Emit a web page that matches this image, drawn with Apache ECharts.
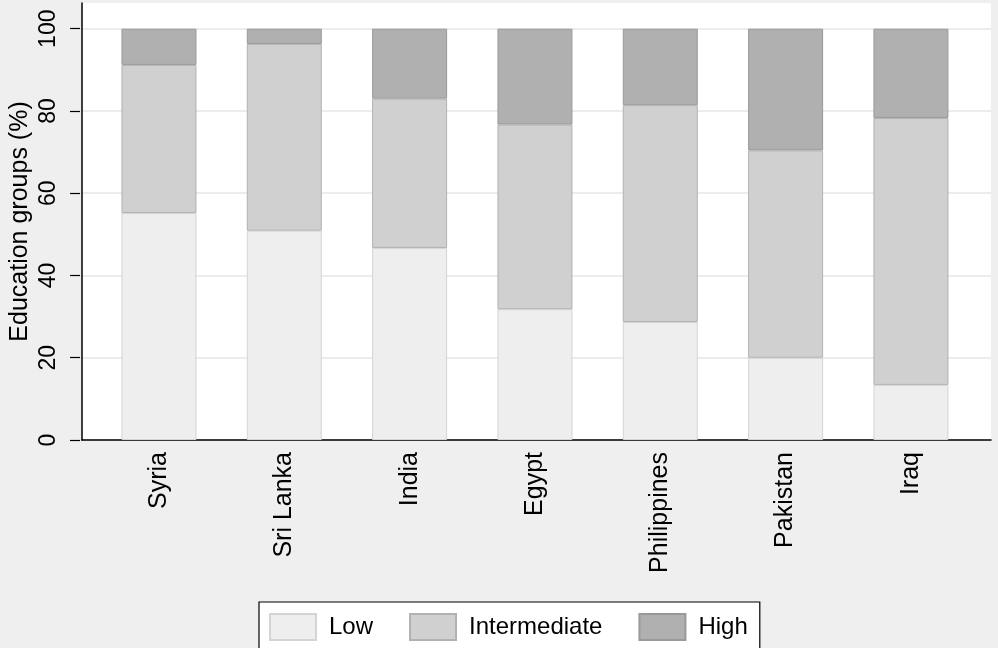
<!DOCTYPE html>
<html>
<head>
<meta charset="utf-8">
<script src="https://cdn.jsdelivr.net/npm/echarts@6/dist/echarts.min.js"></script>
<style>
html,body{margin:0;padding:0;background:#efefef;}
#chart{width:998px;height:648px;}
</style>
</head>
<body>
<div id="chart"></div>
<script>
const categories = ['Syria', 'Sri Lanka', 'India', 'Egypt', 'Philippines', 'Pakistan', 'Iraq'];
const lowValues = [55.2, 50.9, 46.7, 31.8, 28.7, 20.0, 13.4];
const intermediateValues = [36.0, 45.4, 36.3, 44.9, 52.7, 50.4, 64.9];
const highValues = [8.8, 3.7, 17.0, 23.3, 18.6, 29.6, 21.7];
const yTicks = [0, 20, 40, 60, 80, 100];
const seriesNames = ['Low', 'Intermediate', 'High'];

const FONT = '"Liberation Sans", Arial, Helvetica, sans-serif';
const chart = echarts.init(document.getElementById('chart'), null, {renderer: 'canvas'});

const styles = [
  {color: '#eeeeee', borderColor: '#d4d4d4'},
  {color: '#d0d0d0', borderColor: '#b2b2b2'},
  {color: '#b0b0b0', borderColor: '#999999'}
];
const dataSets = [lowValues, intermediateValues, highValues];

const option = {
  backgroundColor: '#efefef',
  animation: false,
  textStyle: {fontFamily: FONT},
  grid: [
    {left: 80, width: 911, top: 3, height: 437, show: true, backgroundColor: '#ffffff', borderWidth: 0},
    {left: 80, width: 911, top: 28.7, height: 411.3},
    {left: 96.3, width: 877.3, top: 28.7, height: 411.3}
  ],
  xAxis: [
    {gridIndex: 0, type: 'value', min: 0, max: 1,
     axisLine: {show: true, lineStyle: {color: '#000', width: 1.5}},
     axisTick: {show: false}, axisLabel: {show: false}, splitLine: {show: false}},
    {gridIndex: 1, type: 'value', show: false},
    {gridIndex: 2, type: 'category', data: categories,
     axisLine: {show: false}, axisTick: {show: false},
     axisLabel: {rotate: 90, margin: 12, fontSize: 25, color: '#000', fontFamily: FONT, interval: 0}}
  ],
  yAxis: [
    {gridIndex: 0, type: 'value', min: 0, max: 1,
     name: 'Education groups (%)', nameLocation: 'middle', nameRotate: 90, nameGap: 49,
     nameTextStyle: {fontSize: 25, color: '#000', fontFamily: FONT},
     axisLine: {show: true, lineStyle: {color: '#000', width: 1.5}},
     axisTick: {show: false}, axisLabel: {show: false}, splitLine: {show: false}},
    {gridIndex: 1, type: 'value', min: yTicks[0], max: yTicks[yTicks.length - 1], interval: 20,
     axisLine: {show: false},
     axisTick: {show: true, length: 10, lineStyle: {color: '#000', width: 1.2}},
     axisLabel: {rotate: 90, margin: 20, fontSize: 23, color: '#000', fontFamily: FONT},
     splitLine: {show: true, lineStyle: {color: '#e6e6e6', width: 1.5}}},
    {gridIndex: 2, type: 'value', min: 0, max: 100, show: false}
  ],
  legend: {
    data: seriesNames,
    left: 259, top: 602,
    orient: 'horizontal',
    itemWidth: 46, itemHeight: 26, itemGap: 36,
    padding: [11, 12, 12, 10],
    backgroundColor: '#ffffff',
    borderColor: '#000', borderWidth: 1.2,
    icon: 'rect',
    textStyle: {fontSize: 24, color: '#000', fontFamily: FONT, padding: [0, 0, 0, 8]},
    selectedMode: false
  },
  series: seriesNames.map((name, i) => ({
    name: name,
    type: 'bar',
    xAxisIndex: 2, yAxisIndex: 2,
    stack: 'total',
    barWidth: 75,
    data: dataSets[i],
    itemStyle: {color: styles[i].color, borderColor: styles[i].borderColor, borderWidth: 1},
    emphasis: {disabled: true}
  }))
};
chart.setOption(option);
</script>
</body>
</html>
